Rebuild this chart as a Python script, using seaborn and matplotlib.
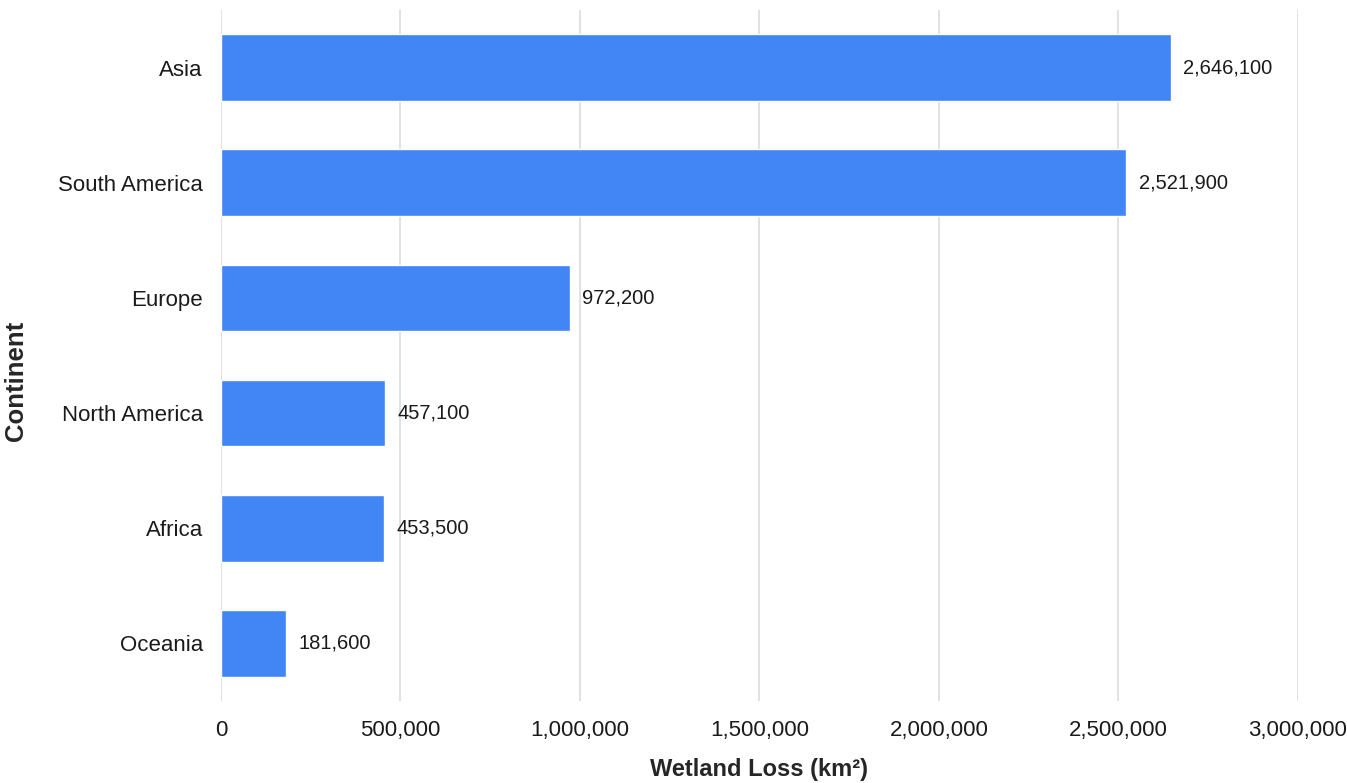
import matplotlib
matplotlib.use("Agg")
import matplotlib.pyplot as plt
import seaborn as sns
import pandas as pd
from matplotlib.ticker import FuncFormatter

# ---------------- Data ----------------
continents = ["Asia", "South America", "Europe", "North America", "Africa", "Oceania"]
wetland_loss = [2646100, 2521900, 972200, 457100, 453500, 181600]

df = pd.DataFrame({"Continent": continents, "Loss": wetland_loss})

# ---------------- Plot ----------------
sns.set_style("white")
plt.rcParams["font.family"] = ["Liberation Sans", "DejaVu Sans"]

fig = plt.figure(figsize=(13.47, 7.83), dpi=100)
ax = fig.add_axes([0.164, 0.105, 0.7996, 0.882])

sns.barplot(data=df, x="Loss", y="Continent", color="#4285F4",
            saturation=1, width=0.58, ax=ax)

for i, v in enumerate(wetland_loss):
    ax.annotate(f"{v:,}", xy=(v, i), xytext=(9, 0), textcoords="offset points",
                va="center", ha="left", fontsize=14.5, color="#1a1a1a")

ax.set_xlim(0, 3000000)
ax.set_ylim(5.5, -0.5)
ax.set_xticks(range(0, 3000001, 500000))
ax.xaxis.set_major_formatter(FuncFormatter(lambda x, p: f"{int(x):,}"))
ax.grid(axis="x", color="#dcdcdc", linewidth=1.2)
ax.set_axisbelow(True)
for s in ax.spines.values():
    s.set_visible(False)
ax.tick_params(axis="both", length=0, labelsize=16, colors="#1a1a1a")
ax.tick_params(axis="y", pad=13)
ax.tick_params(axis="x", pad=14)

ax.set_xlabel("Wetland Loss (km²)", fontsize=17, fontweight="bold", labelpad=12)
ax.set_ylabel("Continent", fontsize=18.5, fontweight="bold")
ax.yaxis.set_label_coords(-0.179, 0.463)

fig.savefig("out.png", dpi=100)
